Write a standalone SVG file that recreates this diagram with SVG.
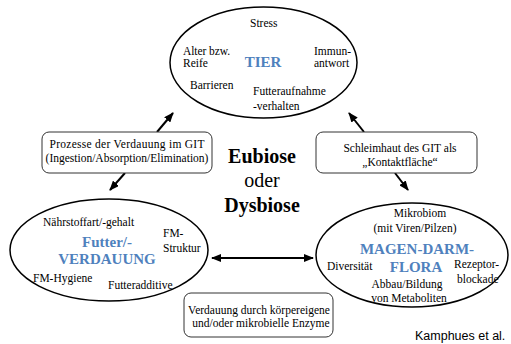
<svg xmlns="http://www.w3.org/2000/svg" width="511" height="344" viewBox="0 0 511 344">
<style>
.ell{fill:none;stroke:#000;stroke-width:1.5}
.box{fill:#fff;stroke:#333;stroke-width:1}
.t{font-size:11.5px;fill:#000}
.m{text-anchor:middle}
.blue{font-size:15px;font-weight:bold;fill:#4f81bd;text-anchor:middle}
.big{font-size:20px;fill:#000;text-anchor:middle}
.conn line{stroke:#000;stroke-width:2;marker-end:url(#ah)}
</style>
<defs>
<marker id="ah" markerUnits="userSpaceOnUse" markerWidth="10" markerHeight="8" refX="9" refY="4" orient="auto-start-reverse">
<path d="M0,0 L10,4 L0,8 z" fill="#000"/>
</marker>
</defs>
<rect width="511" height="344" fill="#fff"/>
<g id="connectors" class="conn">
<line x1="157" y1="132" x2="173" y2="113"/>
<line x1="125" y1="173" x2="110" y2="190"/>
<line x1="364" y1="132" x2="349" y2="113"/>
<line x1="395" y1="173" x2="408" y2="190"/>
<line x1="260" y1="258" x2="313" y2="258"/>
<line x1="260" y1="258" x2="212" y2="258"/>
</g>
<g font-family="'Liberation Serif', 'Times New Roman', serif">
<g id="tier">
<ellipse class="ell" cx="263.5" cy="62.5" rx="93.5" ry="55.5"/>
<text class="t" x="250" y="27">Stress</text>
<text class="t" x="183" y="55" textLength="47" lengthAdjust="spacing">Alter bzw.</text>
<text class="t" x="183" y="67">Reife</text>
<text class="t" x="314" y="55">Immun-</text>
<text class="t" x="314" y="67">antwort</text>
<text class="t" x="190" y="89">Barrieren</text>
<text class="t" x="253" y="95">Futteraufnahme</text>
<text class="t" x="253" y="110">-verhalten</text>
<text class="blue" x="263" y="67">TIER</text>
</g>
<g id="box-prozesse">
<rect class="box" x="42" y="132" width="170" height="41" rx="7"/>
<text class="t m" x="127" y="148" textLength="155" lengthAdjust="spacing">Prozesse der Verdauung im GIT</text>
<text class="t m" x="127" y="162">(Ingestion/Absorption/Elimination)</text>
</g>
<g id="box-schleimhaut">
<rect class="box" x="316" y="132" width="161" height="41" rx="7"/>
<text class="t m" x="400" y="152">Schleimhaut des GIT als</text>
<text class="t m" x="400" y="166">„Kontaktfläche“</text>
</g>
<g id="center">
<text class="big" x="262" y="163" font-weight="bold">Eubiose</text>
<text class="big" x="262" y="187">oder</text>
<text class="big" x="262" y="212" font-weight="bold">Dysbiose</text>
</g>
<g id="futter">
<ellipse class="ell" cx="109" cy="250" rx="99" ry="51"/>
<text class="t" x="43" y="226">Nährstoffart/-gehalt</text>
<text class="blue" x="107" y="247">Futter/-</text>
<text class="blue" x="107" y="264">VERDAUUNG</text>
<text class="t" x="163" y="237">FM-</text>
<text class="t" x="163" y="252">Struktur</text>
<text class="t" x="33" y="282">FM-Hygiene</text>
<text class="t" x="108" y="289">Futteradditive</text>
</g>
<g id="flora">
<ellipse class="ell" cx="412" cy="255" rx="96" ry="52"/>
<text class="t m" x="420" y="217">Mikrobiom</text>
<text class="t m" x="415" y="232">(mit Viren/Pilzen)</text>
<text class="blue" x="417" y="254">MAGEN-DARM-</text>
<text class="blue" x="416" y="272">FLORA</text>
<text class="t" x="327" y="270">Diversität</text>
<text class="t" x="454" y="268">Rezeptor-</text>
<text class="t" x="457" y="283">blockade</text>
<text class="t m" x="407" y="288">Abbau/Bildung</text>
<text class="t m" x="409" y="302">von Metaboliten</text>
</g>
<g id="box-verdauung">
<rect class="box" x="184" y="293" width="149" height="44" rx="7"/>
<text class="t m" x="259" y="314">Verdauung durch körpereigene</text>
<text class="t m" x="261" y="327">und/oder mikrobielle Enzyme</text>
</g>
</g>
<text x="415" y="340" font-family="'Liberation Sans', Arial, sans-serif" font-size="12.5" fill="#000">Kamphues et al.</text>
</svg>
